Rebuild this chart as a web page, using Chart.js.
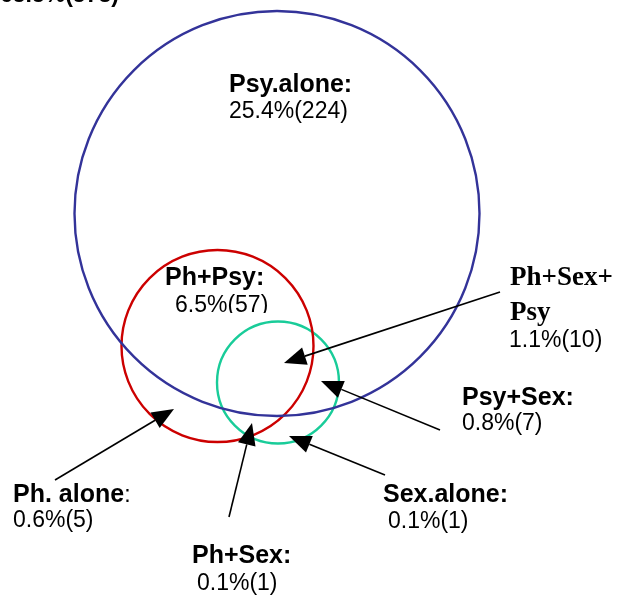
<!DOCTYPE html>
<html>
<head>
<meta charset="utf-8">
<script src="https://cdn.jsdelivr.net/npm/chart.js@4"></script>
<style>
  html, body { margin: 0; padding: 0; background: #fff; }
  canvas { display: block; }
</style>
</head>
<body>
<canvas id="venn" width="624" height="595"></canvas>
<script>
// sets drawn as circles (diagram units, y grows downward, 1 unit = 1 px)
const sets = ['Psy', 'Ph', 'Sex'];
const setX = [277, 217.5, 278];
const setY = [213.5, 346, 382.5];
const setR = [202.5, 96, 61];
const setColors = ['#333399', '#cc0000', '#19cc99'];

// regions of the diagram
const regions = ['Psy.alone', 'Ph+Psy', 'Ph+Sex+Psy', 'Psy+Sex', 'Ph. alone', 'Sex.alone', 'Ph+Sex'];
const percents = [25.4, 6.5, 1.1, 0.8, 0.6, 0.1, 0.1];
const counts = [224, 57, 10, 7, 5, 1, 1];
const noneLabel = '65.5%(578)';

// where each label sits and where its arrow points
const layout = {
  'Psy.alone':  { name: [229, 92],  value: [229, 118] },
  'Ph+Psy':     { name: [165, 285], value: [175, 312], clipBelow: 313 },
  'Ph+Sex+Psy': { name: [510, 285], value: [509, 347], serif: true, arrow: [500, 292, 284, 363] },
  'Psy+Sex':    { name: [462, 405], value: [462, 430], arrow: [440, 430, 321, 381] },
  'Ph. alone':  { name: [13, 502],  value: [13, 527],  plainColon: true, arrow: [55, 480, 174, 409] },
  'Sex.alone':  { name: [383, 502], value: [388, 528], arrow: [385, 475, 289, 436] },
  'Ph+Sex':     { name: [192, 563], value: [197, 590], arrow: [229, 517, 252, 423] }
};

const boldFont = 'bold 25px "Liberation Sans", Arial, sans-serif';
const plainFont = '23px "Liberation Sans", Arial, sans-serif';
const serifFont = 'bold 27px "Liberation Serif", "Times New Roman", serif';

function px(chart, x, y) {
  return [chart.scales.x.getPixelForValue(x), chart.scales.y.getPixelForValue(y)];
}

function arrow(ctx, x1, y1, x2, y2) {
  const ang = Math.atan2(y2 - y1, x2 - x1);
  const len = 22, half = 9;
  const bx = x2 - len * Math.cos(ang), by = y2 - len * Math.sin(ang);
  ctx.strokeStyle = '#000';
  ctx.lineWidth = 1.6;
  ctx.beginPath();
  ctx.moveTo(x1, y1);
  ctx.lineTo(bx, by);
  ctx.stroke();
  ctx.fillStyle = '#000';
  ctx.beginPath();
  ctx.moveTo(x2, y2);
  ctx.lineTo(bx + half * Math.sin(ang), by - half * Math.cos(ang));
  ctx.lineTo(bx - half * Math.sin(ang), by + half * Math.cos(ang));
  ctx.closePath();
  ctx.fill();
}

const labelsPlugin = {
  id: 'vennLabels',
  afterDatasetsDraw(chart) {
    const ctx = chart.ctx;
    ctx.save();
    ctx.textBaseline = 'alphabetic';
    ctx.textAlign = 'left';
    ctx.fillStyle = '#000';

    // the "none" count, cut off at the top edge
    ctx.font = 'bold 23px "Liberation Sans", Arial, sans-serif';
    let p = px(chart, 0, 2);
    ctx.fillText(noneLabel, p[0], p[1]);

    regions.forEach((name, i) => {
      const l = layout[name];
      const value = percents[i].toFixed(1) + '%(' + counts[i] + ')';
      if (l.arrow) {
        const a = px(chart, l.arrow[0], l.arrow[1]);
        const b = px(chart, l.arrow[2], l.arrow[3]);
        arrow(ctx, a[0], a[1], b[0], b[1]);
      }
      ctx.fillStyle = '#000';
      const n = px(chart, l.name[0], l.name[1]);
      if (l.serif) {
        ctx.font = serifFont;
        const parts = name.split('+');
        ctx.fillText(parts[0] + '+' + parts[1] + '+', n[0], n[1]);
        const n2 = px(chart, l.name[0], l.name[1] + 35);
        ctx.fillText(parts[2], n2[0], n2[1]);
      } else if (l.plainColon) {
        ctx.font = boldFont;
        ctx.fillText(name, n[0], n[1]);
        const w = ctx.measureText(name).width;
        ctx.font = plainFont;
        ctx.fillText(':', n[0] + w, n[1]);
      } else {
        ctx.font = boldFont;
        ctx.fillText(name + ':', n[0], n[1]);
      }
      ctx.font = plainFont;
      const v = px(chart, l.value[0], l.value[1]);
      if (l.clipBelow) {
        ctx.save();
        ctx.beginPath();
        ctx.rect(0, 0, chart.width, px(chart, 0, l.clipBelow)[1]);
        ctx.clip();
        ctx.fillText(value, v[0], v[1]);
        ctx.restore();
      } else {
        ctx.fillText(value, v[0], v[1]);
      }
    });
    ctx.restore();
  }
};

new Chart(document.getElementById('venn'), {
  type: 'bubble',
  data: {
    datasets: sets.map((s, i) => ({
      label: s,
      data: [{ x: setX[i], y: setY[i], r: setR[i] }],
      borderColor: setColors[i],
      backgroundColor: 'rgba(0,0,0,0)',
      borderWidth: 2.4,
      clip: false
    }))
  },
  options: {
    responsive: false,
    animation: false,
    events: [],
    layout: { padding: 0, autoPadding: false },
    plugins: {
      legend: { display: false },
      tooltip: { enabled: false }
    },
    scales: {
      x: { type: 'linear', min: 0, max: 624, display: false },
      y: { type: 'linear', min: 0, max: 595, reverse: true, display: false }
    }
  },
  plugins: [labelsPlugin]
});
</script>
</body>
</html>
